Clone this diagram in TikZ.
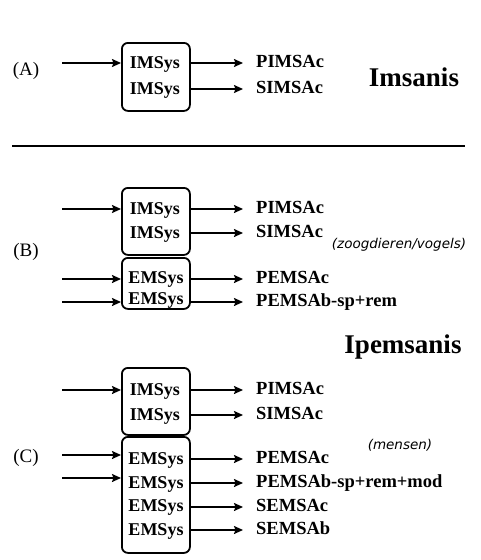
\documentclass[tikz,border=0pt]{standalone}
\usepackage{fontspec}
\setmainfont{Liberation Serif}
\newfontfamily\notefont{DejaVu Sans}
\usetikzlibrary{positioning, arrows.meta, calc}

\begin{document}
\begin{tikzpicture}[x=1pt, y=-1pt,
    sysbox/.style={draw, line width=1.8pt, rounded corners=6pt,
                   minimum width=68pt, anchor=north west, inner sep=0pt},
    sys/.style={font=\fontsize{18}{18}\selectfont\bfseries, inner sep=0pt,
                text height=12pt, text depth=4pt},
    act/.style={font=\fontsize{18.5}{18.5}\selectfont\bfseries, inner sep=0pt,
                anchor=west, text height=13pt, text depth=4pt},
    arr/.style={-{Stealth[length=9pt, width=8pt, inset=1.5pt]}, line width=1.6pt},
    outarr/.style={arr, shorten >=13pt},
    part/.style={font=\fontsize{19}{19}\selectfont},
    title/.style={font=\fontsize{27}{27}\selectfont\bfseries},
    note/.style={font=\notefont\itshape\fontsize{13.5}{13.5}\selectfont}]
  \useasboundingbox (0,0) rectangle (480,560);

  % (A) Imsanis
  \node[part] (partA) at (26,71) {(A)};
  \node[sysbox, minimum height=68pt] (boxA) at (121,42) {};
  \node[sys] (a1) at (155,64) {IMSys};
  \node[sys] (a2) at (155,90) {IMSys};
  \coordinate (inA) at (62,63);
  \draw[arr] (inA) -- (boxA.west |- inA);
  \node[act] (pimsA) at (256,63) {PIMSAc};
  \node[act] (simsA) at (256,89) {SIMSAc};
  \draw[outarr] (boxA.east |- pimsA) -- (pimsA.west);
  \draw[outarr] (boxA.east |- simsA) -- (simsA.west);
  \node[title] (imsanis) at (414,77) {Imsanis};

  \draw[line width=1.6pt] (12,146) -- (465,146);

  % (B) zoogdieren/vogels
  \node[part] (partB) at (26,252) {(B)};
  \node[sysbox, minimum height=67pt] (boxBi) at (121,187) {};
  \node[sysbox, minimum height=51pt] (boxBe) at (121,257) {};
  \node[sys] (b1) at (155,210) {IMSys};
  \node[sys] (b2) at (155,234) {IMSys};
  \node[sys] (b3) at (156,279) {EMSys};
  \node[sys] (b4) at (156,300) {EMSys};
  \coordinate (inB1) at (62,209);
  \coordinate (inB3) at (62,279);
  \coordinate (inB4) at (62,302);
  \draw[arr] (inB1) -- (boxBi.west |- inB1);
  \draw[arr] (inB3) -- (boxBe.west |- inB3);
  \draw[arr] (inB4) -- (boxBe.west |- inB4);
  \node[act] (pimsB) at (256,209) {PIMSAc};
  \node[act] (simsB) at (256,233) {SIMSAc};
  \node[act] (pemsB) at (256,279) {PEMSAc};
  \node[act] (pembB) at (256,302) {PEMSAb-sp+rem};
  \draw[outarr] (boxBi.east |- pimsB) -- (pimsB.west);
  \draw[outarr] (boxBi.east |- simsB) -- (simsB.west);
  \draw[outarr] (boxBe.east |- pemsB) -- (pemsB.west);
  \draw[outarr] (boxBe.east |- pembB) -- (pembB.west);
  \node[note] (vogels) at (399,245) {(zoogdieren/vogels)};

  \node[title] (ipemsanis) at (403,347) {Ipemsanis};

  % (C) mensen
  \node[part] (partC) at (26,458) {(C)};
  \node[sysbox, minimum height=67pt] (boxCi) at (121,367) {};
  \node[sysbox, minimum height=116pt] (boxCe) at (121,436) {};
  \node[sys] (c1) at (155,391) {IMSys};
  \node[sys] (c2) at (155,416) {IMSys};
  \node[sys] (c3) at (156,460) {EMSys};
  \node[sys] (c4) at (156,484) {EMSys};
  \node[sys] (c5) at (156,507) {EMSys};
  \node[sys] (c6) at (156,531) {EMSys};
  \coordinate (inC1) at (62,390);
  \coordinate (inC3) at (62,455);
  \coordinate (inC4) at (62,478);
  \draw[arr] (inC1) -- (boxCi.west |- inC1);
  \draw[arr] (inC3) -- (boxCe.west |- inC3);
  \draw[arr] (inC4) -- (boxCe.west |- inC4);
  \node[act] (pimsC) at (256,390) {PIMSAc};
  \node[act] (simsC) at (256,415) {SIMSAc};
  \node[act] (pemsC) at (256,459) {PEMSAc};
  \node[act] (pembC) at (256,483) {PEMSAb-sp+rem+mod};
  \node[act] (semsC) at (256,507) {SEMSAc};
  \node[act] (sembC) at (256,530) {SEMSAb};
  \draw[outarr] (boxCi.east |- pimsC) -- (pimsC.west);
  \draw[outarr] (boxCi.east |- simsC) -- (simsC.west);
  \draw[outarr] (boxCe.east |- pemsC) -- (pemsC.west);
  \draw[outarr] (boxCe.east |- pembC) -- (pembC.west);
  \draw[outarr] (boxCe.east |- semsC) -- (semsC.west);
  \draw[outarr] (boxCe.east |- sembC) -- (sembC.west);
  \node[note] (mensen) at (400,445) {(mensen)};
\end{tikzpicture}
\end{document}
